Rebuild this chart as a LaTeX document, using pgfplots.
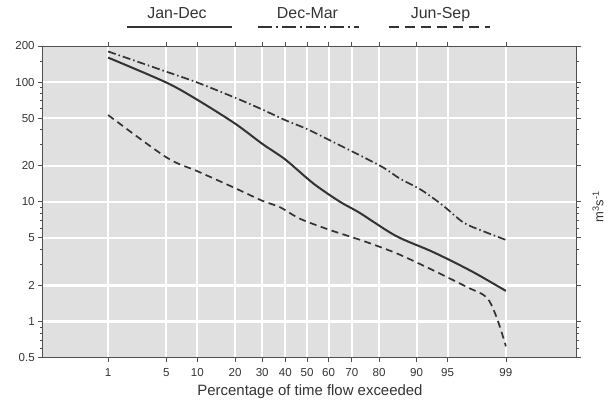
\documentclass[border=0pt]{standalone}
\usepackage{fontspec}
\setmainfont{Liberation Sans}
\usepackage{pgfplots}
\pgfplotsset{compat=1.18}
\definecolor{bg}{HTML}{E0E0E0}
\definecolor{ink}{HTML}{333333}
\definecolor{axisc}{HTML}{505050}
\begin{document}
\begin{tikzpicture}
\path[use as bounding box] (-42.7bp,-45.5bp) rectangle (570.3bp,357.5bp);
\begin{axis}[
  at={(0,0)}, anchor=south west,
  scale only axis, width=534bp, height=311.5bp,
  ymode=log, xmin=-3.091, xmax=3.154, ymin=0.5, ymax=200,
  clip=false,
  axis background/.style={fill=bg},
  xtick={-2.326,-1.645,-1.282,-0.842,-0.524,-0.253,0,0.253,0.524,0.842,1.282,1.645,2.326},
  xticklabels={1,5,10,20,30,40,50,60,70,80,90,95,99},
  ytick={1,2,5,10,20,50,100},
  yticklabels={1,2,5,10,20,50,100},
  extra y ticks={0.5,200},
  extra y tick labels={0.5,200},
  extra y tick style={grid=none},
  minor ytick={0.6,0.7,0.8,0.9,3,4,6,7,8,9,30,40,60,70,80,90,150},
  tick align=outside, major tick length=4.5bp, minor tick length=2.5bp,
  xtick pos=both, xticklabel pos=bottom, ytick pos=both, yticklabel pos=left,
  grid=major, major grid style={white, line width=2.2bp},
  axis line style={axisc, line width=0.8bp},
  every tick/.style={axisc, line width=0.8bp},
  tick label style={font=\fontsize{11.6}{13}\selectfont, text=ink},
  xticklabel style={yshift=-3bp},
]
\addplot[ink, line width=2bp, smooth, tension=0.5] coordinates {
(-2.326,160) (-1.645,99) (-1.282,71) (-0.842,45) (-0.524,30.5) (-0.253,22.5)
(0.075,14.2) (0.385,10) (0.613,8.1) (1.036,5.2) (1.44,3.9) (1.71,3.15) (1.98,2.5) (2.326,1.8)};
\addplot[ink, line width=1.7bp, smooth, tension=0.5, dash pattern=on 8bp off 3bp on 1.5bp off 3bp] coordinates {
(-2.326,180) (-1.645,122) (-1.282,99) (-0.842,74) (-0.524,59) (-0.253,48) (0,40.5)
(0.27,32.5) (0.854,20) (1.08,15.7) (1.34,12.5) (1.59,9.3) (1.83,6.7) (2.054,5.7) (2.326,4.8)};
\addplot[ink, line width=1.7bp, smooth, tension=0.5, dash pattern=on 7bp off 4.5bp] coordinates {
(-2.326,53) (-1.645,23.5) (-1.282,18) (-0.842,13) (-0.524,10.2) (-0.316,9) (-0.08,7.2)
(0.27,5.8) (0.66,4.7) (1.05,3.7) (1.44,2.75) (1.87,1.94) (2.10,1.59) (2.22,1.07) (2.326,0.62)};
\end{axis}
% legend
\node[anchor=base, text=ink, font=\fontsize{16}{18}\selectfont] at (134.3bp,339.2bp) {Jan-Dec};
\node[anchor=base, text=ink, font=\fontsize{16}{18}\selectfont] at (264.8bp,339.2bp) {Dec-Mar};
\node[anchor=base, text=ink, font=\fontsize{16}{18}\selectfont] at (397.8bp,339.2bp) {Jun-Sep};
\draw[ink, line width=2.2bp] (84.3bp,330.8bp) -- (189.3bp,330.8bp);
\draw[ink, line width=1.8bp, dash pattern=on 14bp off 4bp on 2bp off 4bp] (215.3bp,330.8bp) -- (316.3bp,330.8bp);
\draw[ink, line width=1.8bp, dash pattern=on 10bp off 6bp] (346.3bp,330.8bp) -- (447.3bp,330.8bp);
% axis labels
\node[anchor=base, text=ink, font=\fontsize{15}{17}\selectfont] at (267.3bp,-38.2bp) {Percentage of time flow exceeded};
\node[rotate=90, text=ink, font=\fontsize{13}{15}\selectfont] at (555.3bp,150.5bp) {m\textsuperscript{3}s\textsuperscript{-1}};
\end{tikzpicture}
\end{document}
